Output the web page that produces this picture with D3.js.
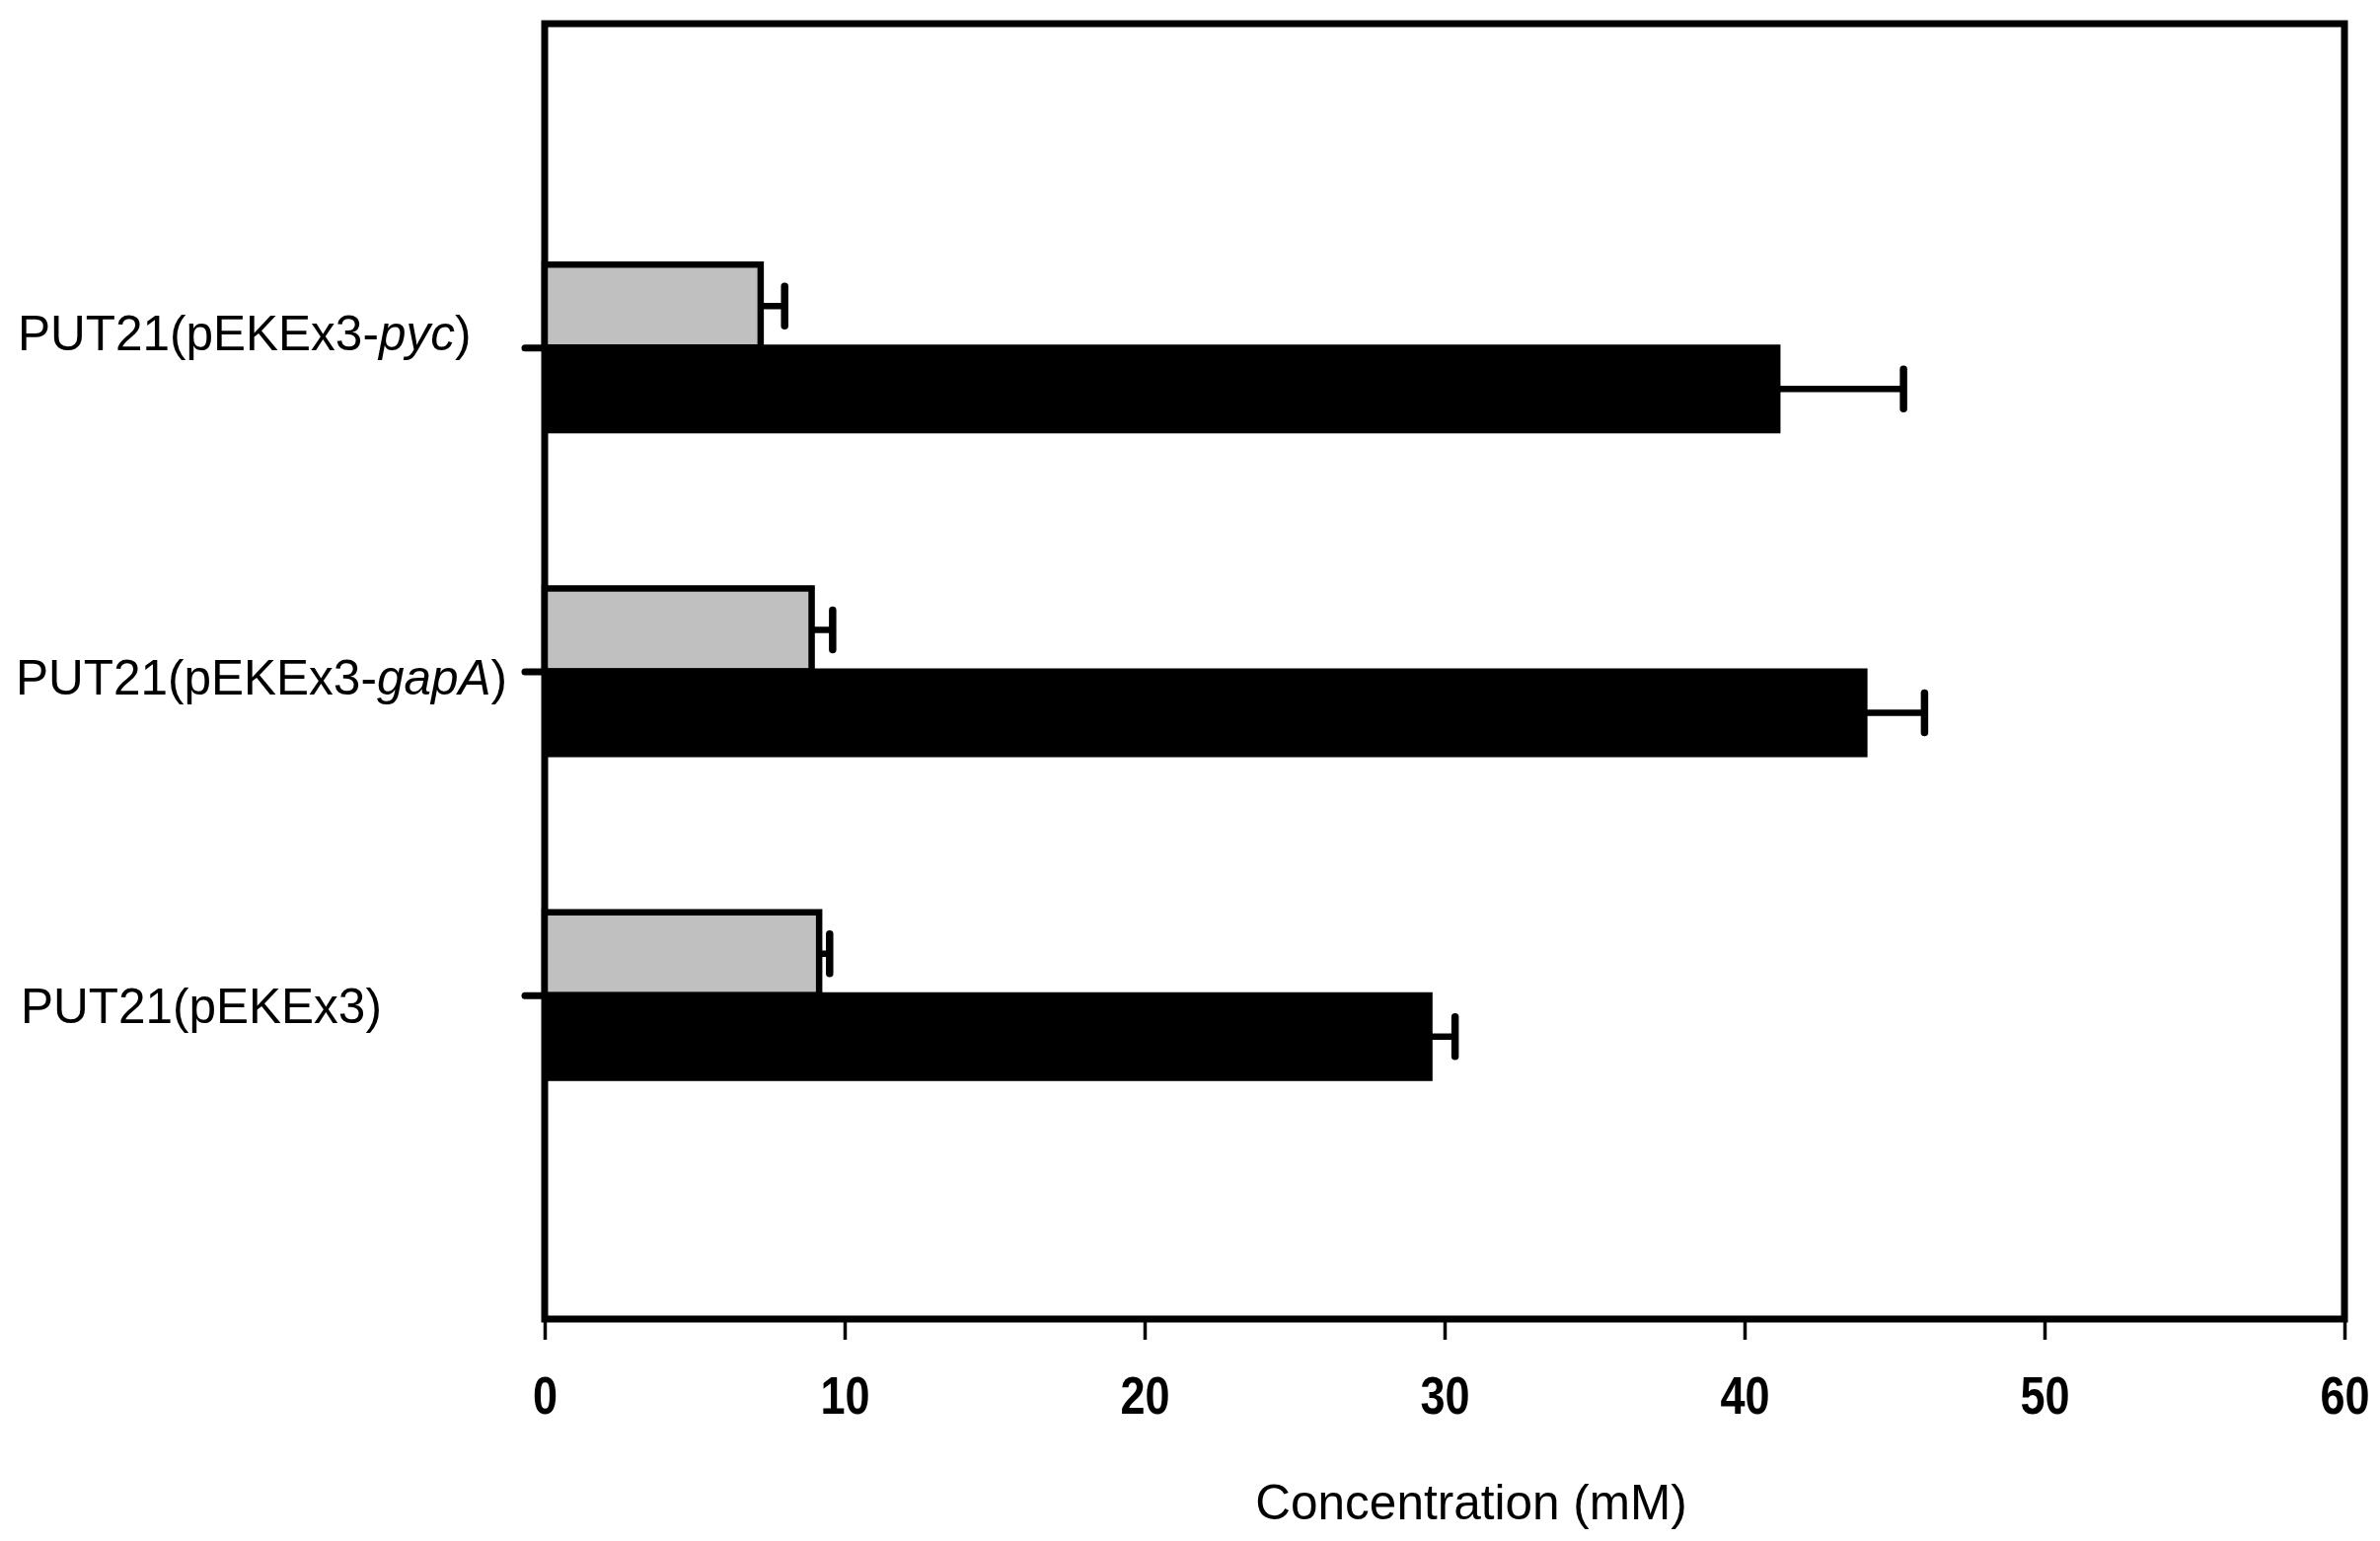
<!DOCTYPE html>
<html>
<head>
<meta charset="utf-8">
<script src="https://cdn.jsdelivr.net/npm/d3@7"></script>
<style>
  html, body { margin: 0; padding: 0; background: #ffffff; }
  svg { display: block; }
</style>
</head>
<body>
<svg id="chart" width="2412" height="1562"></svg>
<script>
// ---- data ----
const categories = ["PUT21(pEKEx3)", "PUT21(pEKEx3-gapA)", "PUT21(pEKEx3-pyc)"];
const categoryPos = [1, 2, 3];
const grayValues = [9.15, 8.9, 7.2];
const grayErrors = [0.35, 0.7, 0.8];
const blackValues = [29.5, 44.0, 41.1];
const blackErrors = [0.85, 2.0, 4.2];
const xTicks = [0, 10, 20, 30, 40, 50, 60];
const xTitle = "Concentration (mM)";

// ---- layout ----
const plotL = 552, plotR = 2376, plotT = 24, plotB = 1337;
const barH = 0.256; // in y-units
const labelLayout = [ {x: 21, dy: 28}, {x: 16, dy: 23}, {x: 18, dy: 3} ];

const svg = d3.select("#chart");

const x = d3.scaleLinear().domain([0, 60]).range([plotL, plotR]);
const y = d3.scaleLinear().domain([0, 4]).range([plotB, plotT]);

const data = categories.map((c, i) => ({
  cat: c, pos: categoryPos[i],
  g: grayValues[i], ge: grayErrors[i],
  b: blackValues[i], be: blackErrors[i], i
}));

// frame
svg.append("rect")
  .attr("x", plotL).attr("y", plotT)
  .attr("width", plotR - plotL).attr("height", plotB - plotT)
  .attr("fill", "none").attr("stroke", "#000").attr("stroke-width", 7);

// bars
const bh = y(0) - y(barH);
svg.append("g").selectAll("rect").data(data).join("rect")
  .attr("x", x(0))
  .attr("y", d => y(d.pos) - bh)
  .attr("width", d => x(d.g) - x(0))
  .attr("height", bh)
  .attr("fill", "#c0c0c0").attr("stroke", "#000").attr("stroke-width", 6.5);

svg.append("g").selectAll("rect").data(data).join("rect")
  .attr("x", x(0))
  .attr("y", d => y(d.pos))
  .attr("width", d => x(d.b) - x(0))
  .attr("height", bh)
  .attr("fill", "#000").attr("stroke", "#000").attr("stroke-width", 6);

// error bars
function errBars(cls, valKey, errKey, yc) {
  const g = svg.append("g").attr("class", cls);
  g.selectAll("line.h").data(data).join("line").attr("class", "h")
    .attr("x1", d => x(d[valKey])).attr("x2", d => x(d[valKey] + d[errKey]))
    .attr("y1", yc).attr("y2", yc)
    .attr("stroke", "#000").attr("stroke-width", 6.5);
  g.selectAll("line.c").data(data).join("line").attr("class", "c")
    .attr("x1", d => x(d[valKey] + d[errKey])).attr("x2", d => x(d[valKey] + d[errKey]))
    .attr("y1", d => yc(d) - 20).attr("y2", d => yc(d) + 20)
    .attr("stroke", "#000").attr("stroke-width", 7.5).attr("stroke-linecap", "round");
}
errBars("gerr", "g", "ge", d => y(d.pos) - bh / 2);
errBars("berr", "b", "be", d => y(d.pos) + bh / 2);

// x axis
const xAxis = d3.axisBottom(x).tickValues(xTicks).tickSize(21).tickPadding(0).tickFormat(d3.format("d"));
const gx = svg.append("g").attr("transform", `translate(0,${plotB})`).call(xAxis);
gx.select(".domain").remove();
gx.selectAll(".tick line").attr("stroke", "#000").attr("stroke-width", 3.5);
gx.selectAll(".tick text").remove();
gx.selectAll(".tick").append("text")
  .attr("text-anchor", "middle")
  .attr("transform", "translate(0,96) scale(0.85,1)")
  .attr("font-family", "'Liberation Sans', Arial, sans-serif")
  .attr("font-weight", "bold")
  .attr("font-size", 53)
  .attr("fill", "#000")
  .text(d => d3.format("d")(d));

// y axis ticks
const yAxis = d3.axisLeft(y).tickValues(categoryPos).tickSize(20).tickFormat("");
const gy = svg.append("g").attr("transform", `translate(${plotL},0)`).call(yAxis);
gy.select(".domain").remove();
gy.selectAll(".tick line").attr("stroke", "#000").attr("stroke-width", 7).attr("stroke-linecap", "round");

// category labels (italic gene names)
const lab = svg.append("g").selectAll("text").data(data).join("text")
  .attr("x", d => labelLayout[d.i].x)
  .attr("y", d => y(d.pos) + labelLayout[d.i].dy)
  .attr("font-family", "'Liberation Sans', Arial, sans-serif")
  .attr("font-size", 49.5)
  .attr("fill", "#000");
lab.each(function(d) {
  const t = d3.select(this);
  const m = d.cat.match(/^(.*-)([^)]*)(\))$/);
  if (m) {
    t.append("tspan").text(m[1]);
    t.append("tspan").attr("font-style", "italic").text(m[2]);
    t.append("tspan").text(m[3]);
  } else {
    t.text(d.cat);
  }
});

// x title
svg.append("text")
  .attr("x", 1491).attr("y", 1540)
  .attr("text-anchor", "middle")
  .attr("font-family", "'Liberation Sans', Arial, sans-serif")
  .attr("font-size", 49.5)
  .attr("fill", "#000")
  .text(xTitle);
</script>
</body>
</html>
